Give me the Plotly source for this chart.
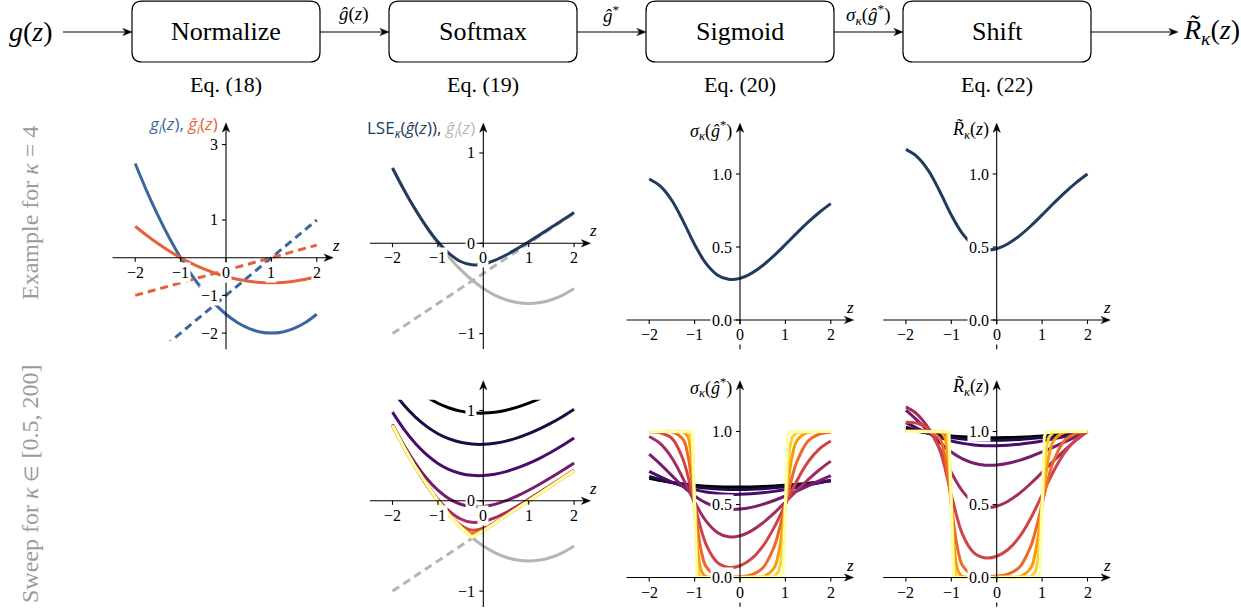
import plotly.graph_objects as go

W, H = 1241, 611
SERIF = "Liberation Serif"
SANS = "Open Sans"

# ---------------- data ----------------
Z_COARSE = [-2.0, -1.75, -1.5, -1.25, -1.0, -0.75, -0.5, -0.25, 0.0, 0.25, 0.5,
            0.75, 1.0, 1.25, 1.5, 1.75, 2.0]
Z_FINE = [-2.0, -1.75, -1.5, -1.25, -1.15, -1.1, -1.05, -1.0, -0.95, -0.9, -0.85,
          -0.75, -0.5, -0.25, 0.0, 0.25, 0.5, 0.75, 0.85, 0.9, 0.95, 1.0, 1.05,
          1.1, 1.15, 1.25, 1.5, 1.75, 2.0]

G1 = [2.5, 1.781, 1.125, 0.531, 0.0, -0.469, -0.875, -1.219, -1.5, -1.719, -1.875,
      -1.969, -2.0, -1.969, -1.875, -1.719, -1.5]
G1_HAT = [0.8333, 0.5938, 0.375, 0.1771, 0.0, -0.1563, -0.2917, -0.4063, -0.5,
          -0.5729, -0.625, -0.6563, -0.6667, -0.6563, -0.625, -0.5729, -0.5]
G2_Z = [-2.0, 2.0]
G2 = [-3.0, 1.0]
G2_HAT = [-1.0, 0.3333]

KAPPAS = [0.5, 0.67, 1, 2, 4, 8, 16, 32, 64, 200]

LSE_K05 = [1.5060, 1.3641, 1.2470, 1.1531, 1.0806, 1.0280, 0.9931, 0.9748, 0.9713,
           0.9814, 1.0035, 1.0371, 1.0806, 1.1339, 1.1961, 1.2670, 1.3459]
LSE_K067 = [1.2208, 1.0610, 0.9291, 0.8238, 0.7431, 0.6851, 0.6476, 0.6281, 0.6254,
            0.6370, 0.6613, 0.6972, 0.7431, 0.7983, 0.8623, 0.9340, 1.0136]
LSE_K1 = [0.9817, 0.7933, 0.6364, 0.5105, 0.4144, 0.3460, 0.3027, 0.2817, 0.2800,
          0.2947, 0.3233, 0.3639, 0.4144, 0.4735, 0.5404, 0.6141, 0.6942]
LSE_K2 = [0.8460, 0.6176, 0.4177, 0.2498, 0.1170, 0.0210, -0.0385, -0.0649, -0.0632,
          -0.0392, 0.0015, 0.0547, 0.1170, 0.1859, 0.2600, 0.3382, 0.4198]
LSE_K4 = [0.8335, 0.5943, 0.3770, 0.1831, 0.0168, -0.1146, -0.2015, -0.2381, -0.2297,
          -0.1893, -0.1296, -0.0593, 0.0168, 0.0960, 0.1770, 0.2591, 0.3421]
LSE_K8 = [0.8333, 0.5938, 0.3750, 0.1772, 0.0006, -0.1522, -0.2700, -0.3247, -0.3041,
          -0.2409, -0.1635, -0.0821, 0.0006, 0.0837, 0.1669, 0.2502, 0.3335]
LSE_K16 = [0.8333, 0.5938, 0.3750, 0.1771, 0.1038, 0.0683, 0.0338, 0.0, -0.0329,
           -0.0650, -0.0962, -0.1562, -0.2895, -0.3679, -0.3291, -0.2496, -0.1666,
           -0.0833, -0.05, -0.0333, -0.0167, 0.0, 0.0167, 0.0333, 0.05, 0.0833,
           0.1667, 0.25, 0.3336]
LSE_K32 = [0.8333, 0.5938, 0.3750, 0.1771, 0.1038, 0.0683, 0.0338, 0.0, -0.0329,
           -0.0650, -0.0962, -0.1562, -0.2917, -0.3894, -0.3333, -0.25, -0.1667,
           -0.0833, -0.05, -0.0333, -0.0167, 0.0, 0.0167, 0.0333, 0.05, 0.0833,
           0.1667, 0.25, 0.3333]
LSE_K64 = [0.8333, 0.5938, 0.3750, 0.1771, 0.1038, 0.0683, 0.0338, 0.0, -0.0329,
           -0.0650, -0.0962, -0.1562, -0.2917, -0.3998, -0.3333, -0.25, -0.1667,
           -0.0833, -0.05, -0.0333, -0.0167, 0.0, 0.0167, 0.0333, 0.05, 0.0833,
           0.1667, 0.25, 0.3333]
LSE_K200 = [0.8333, 0.5938, 0.3750, 0.1771, 0.1038, 0.0683, 0.0338, 0.0, -0.0329,
            -0.0650, -0.0962, -0.1562, -0.2917, -0.4057, -0.3333, -0.25, -0.1667,
            -0.0833, -0.05, -0.0333, -0.0167, 0.0, 0.0167, 0.0333, 0.05, 0.0833,
            0.1667, 0.25, 0.3333]

SIG_K05 = [0.6798, 0.6642, 0.6510, 0.6403, 0.6319, 0.6257, 0.6217, 0.6195, 0.6191,
           0.6203, 0.6229, 0.6268, 0.6319, 0.6381, 0.6452, 0.6533, 0.6622]
SIG_K067 = [0.6930, 0.6698, 0.6501, 0.6340, 0.6214, 0.6122, 0.6063, 0.6032, 0.6027,
            0.6046, 0.6085, 0.6141, 0.6214, 0.6300, 0.6399, 0.6508, 0.6628]
SIG_K1 = [0.7274, 0.6886, 0.6539, 0.6249, 0.6021, 0.5856, 0.5751, 0.5700, 0.5695,
          0.5732, 0.5801, 0.5900, 0.6021, 0.6162, 0.6319, 0.6489, 0.6669]
SIG_K2 = [0.8444, 0.7747, 0.6975, 0.6223, 0.5582, 0.5105, 0.4808, 0.4676, 0.4684,
          0.4804, 0.5008, 0.5273, 0.5582, 0.5919, 0.6271, 0.6629, 0.6984]
SIG_K4 = [0.9656, 0.9151, 0.8187, 0.6753, 0.5168, 0.3874, 0.3087, 0.2784, 0.2852,
          0.3193, 0.3733, 0.4410, 0.5168, 0.5949, 0.6700, 0.7382, 0.7971]
SIG_K8 = [0.9987, 0.9914, 0.9526, 0.8049, 0.5012, 0.2283, 0.1034, 0.0693, 0.0807,
          0.1271, 0.2128, 0.3415, 0.5012, 0.6614, 0.7917, 0.8810, 0.9351]
SIG_K16 = [1.0, 0.9999, 0.9975, 0.9445, 0.8403, 0.7490, 0.6318, 0.5, 0.3713, 0.2612,
           0.1765, 0.0759, 0.0096, 0.0028, 0.0051, 0.0181, 0.0650, 0.2086, 0.3100,
           0.3697, 0.4337, 0.5, 0.5663, 0.6303, 0.6900, 0.7914, 0.9350, 0.9820, 0.9952]
SIG_K32 = [1.0, 1.0, 1.0, 0.9966, 0.9651, 0.8990, 0.7465, 0.5, 0.2586, 0.1111, 0.0439,
           0.0067, 0.0001, 0.0, 0.0, 0.0003, 0.0048, 0.0650, 0.1680, 0.2560, 0.3697,
           0.5, 0.6303, 0.7440, 0.8320, 0.9350, 0.9952, 0.9997, 1.0]
SIG_K64 = [1.0, 1.0, 1.0, 1.0, 0.9987, 0.9876, 0.8966, 0.5, 0.1085, 0.0154, 0.0021,
           0.0001, 0.0, 0.0, 0.0, 0.0, 0.0, 0.0048, 0.0392, 0.1059, 0.2560, 0.5,
           0.7440, 0.8941, 0.9608, 0.9952, 1.0, 1.0, 1.0]
SIG_K200 = [1.0, 1.0, 1.0, 1.0, 1.0, 1.0, 0.9988, 0.5, 0.0014, 0.0, 0.0, 0.0, 0.0,
            0.0, 0.0, 0.0, 0.0, 0.0, 0.0001, 0.0013, 0.0344, 0.5, 0.9656, 0.9987,
            1.0, 1.0, 1.0, 1.0, 1.0]

RT_K05 = [1.0176, 1.0020, 0.9888, 0.9781, 0.9697, 0.9635, 0.9595, 0.9573, 0.9569,
          0.9581, 0.9607, 0.9646, 0.9697, 0.9759, 0.9830, 0.9911, 1.0]
RT_K067 = [1.0302, 1.0070, 0.9873, 0.9712, 0.9586, 0.9494, 0.9435, 0.9404, 0.9399,
           0.9418, 0.9457, 0.9513, 0.9586, 0.9672, 0.9771, 0.9880, 1.0]
RT_K1 = [1.0605, 1.0217, 0.9870, 0.9580, 0.9352, 0.9187, 0.9082, 0.9031, 0.9026,
         0.9063, 0.9132, 0.9231, 0.9352, 0.9493, 0.9650, 0.9820, 1.0]
RT_K2 = [1.1460, 1.0763, 0.9991, 0.9239, 0.8598, 0.8121, 0.7824, 0.7692, 0.7700,
         0.7820, 0.8024, 0.8289, 0.8598, 0.8935, 0.9287, 0.9645, 1.0]
RT_K4 = [1.1685, 1.1180, 1.0216, 0.8782, 0.7197, 0.5903, 0.5116, 0.4813, 0.4881,
         0.5222, 0.5762, 0.6439, 0.7197, 0.7978, 0.8729, 0.9411, 1.0]
RT_K8 = [1.0636, 1.0563, 1.0175, 0.8698, 0.5661, 0.2932, 0.1683, 0.1342, 0.1456,
         0.1920, 0.2777, 0.4064, 0.5661, 0.7263, 0.8566, 0.9459, 1.0]
RT_K16 = [1.0048, 1.0047, 1.0023, 0.9493, 0.8451, 0.7538, 0.6366, 0.5048, 0.3761,
          0.2660, 0.1813, 0.0807, 0.0144, 0.0076, 0.0099, 0.0229, 0.0698, 0.2134,
          0.3148, 0.3745, 0.4385, 0.5048, 0.5711, 0.6351, 0.6948, 0.7962, 0.9398,
          0.9868, 1.0]
RT_K32 = SIG_K32
RT_K64 = SIG_K64
RT_K200 = SIG_K200

SWEEP_Z = [Z_COARSE] * 6 + [Z_FINE] * 4
LSE_SWEEP = [LSE_K05, LSE_K067, LSE_K1, LSE_K2, LSE_K4, LSE_K8, LSE_K16, LSE_K32, LSE_K64, LSE_K200]
SIG_SWEEP = [SIG_K05, SIG_K067, SIG_K1, SIG_K2, SIG_K4, SIG_K8, SIG_K16, SIG_K32, SIG_K64, SIG_K200]
RT_SWEEP = [RT_K05, RT_K067, RT_K1, RT_K2, RT_K4, RT_K8, RT_K16, RT_K32, RT_K64, RT_K200]

X_TICKS = [-2, -1, 0, 1, 2]
A_Y_TICKS = [3, 1, -1, -2]
B_Y_TICKS = [1, 0, -1]
S_Y_TICKS = [1.0, 0.5, 0.0]

STAGES = ["Normalize", "Softmax", "Sigmoid", "Shift"]
EQS = ["Eq. (18)", "Eq. (19)", "Eq. (20)", "Eq. (22)"]
EDGE_LABELS = ["<i>ĝ</i>(<i>z</i>)", "<i>ĝ</i><sup>*</sup>",
               "<i>σ</i><sub><i>κ</i></sub>(<i>ĝ</i><sup>*</sup>)"]

# ---------------- styles ----------------
BLUE = "#3a67a0"
ORANGE = "#e5623d"
NAVY = "#233a5e"
GRAY = "#b5b5b5"
INFERNO = ["#000004", "#1b0c41", "#4a0c6b", "#781c6d", "#a52c60",
           "#cf4446", "#ed6925", "#fb9b06", "#f7d13d", "#fcffa4"]
SWEEP_SHAPE = ["spline"] * 8 + ["linear"] * 2
DASH = "8px,5px"

COL_X0 = [226.0, 483.3, 740.0, 996.7]
SX = 45.4
X_RANGE = (-2.7, 2.7)

LBL_A = ('<span style="color:%s"><i>g<sub>i</sub></i>(<i>z</i>),</span> '
         '<span style="color:%s"><i>ĝ<sub>i</sub></i>(<i>z</i>)</span>') % (BLUE, ORANGE)
LBL_B = ('<span style="color:%s">LSE<sub><i>κ</i></sub>(<i>ĝ</i>(<i>z</i>)),</span> '
         '<span style="color:%s"><i>ĝ<sub>i</sub></i>(<i>z</i>)</span>') % (NAVY, "#b8b8b8")
LBL_C = "<i>σ</i><sub><i>κ</i></sub>(<i>ĝ</i><sup>*</sup>)"
LBL_D = "<i>R̃</i><sub><i>κ</i></sub>(<i>z</i>)"

PANELS = [
    dict(col=0, y0=257.7, sy=37.7, yr=(-2.2, 3.7), yext=(-2.43, 3.57), xtip=2.36,
         yt=A_Y_TICKS, fmt="int", lab=LBL_A, labfont=SANS, labsize=17, laby=125),
    dict(col=1, y0=243.3, sy=90.3, yr=(-1.3, 1.45), yext=(-1.17, 1.33), xtip=2.36,
         yt=B_Y_TICKS, fmt="int", lab=LBL_B, labfont=SANS, labsize=17, laby=129),
    dict(col=2, y0=320.0, sy=146.0, yr=(-0.3, 1.45), yext=(-0.2, 1.347), xtip=2.5,
         yt=S_Y_TICKS, fmt="f1", lab=LBL_C, labfont=SERIF, labsize=18, laby=130),
    dict(col=3, y0=320.0, sy=146.0, yr=(-0.3, 1.45), yext=(-0.2, 1.347), xtip=2.5,
         yt=S_Y_TICKS, fmt="f1", lab=LBL_D, labfont=SERIF, labsize=18, laby=130),
    dict(col=1, y0=500.8, sy=90.3, yr=(-1.2, 1.12), yext=(-1.176, 1.33), xtip=2.36,
         yt=B_Y_TICKS, fmt="int", lab=LBL_B, labfont=SANS, labsize=17, laby=386.5),
    dict(col=2, y0=577.5, sy=146.0, yr=(-0.22, 1.45), yext=(-0.2, 1.347), xtip=2.5,
         yt=S_Y_TICKS, fmt="f1", lab=LBL_C, labfont=SERIF, labsize=18, laby=387.5),
    dict(col=3, y0=577.5, sy=146.0, yr=(-0.22, 1.45), yext=(-0.2, 1.347), xtip=2.5,
         yt=S_Y_TICKS, fmt="f1", lab=LBL_D, labfont=SERIF, labsize=18, laby=387.5),
]


def PX(x):
    return x / W


def PY(y):
    return 1 - y / H


def fmt_tick(t, kind):
    if kind == "f1":
        s = f"{t:.1f}"
    else:
        s = f"{int(round(t))}"
    return s.replace("-", "−")


def seg(xa, ya, xb, yb, width=1.1):
    return dict(type="line", xref="paper", yref="paper", x0=PX(xa), y0=PY(ya),
                x1=PX(xb), y1=PY(yb), line=dict(color="black", width=width), layer="above")


def head_right(tx, ty, L=9.0, hw=3.6, notch=6.5):
    p = (f"M{PX(tx)},{PY(ty)} L{PX(tx - L)},{PY(ty - hw)} L{PX(tx - notch)},{PY(ty)} "
         f"L{PX(tx - L)},{PY(ty + hw)} Z")
    return dict(type="path", xref="paper", yref="paper", path=p, fillcolor="black",
                line=dict(color="black", width=0.5), layer="above")


def head_up(tx, ty, L=9.0, hw=3.6, notch=6.5):
    p = (f"M{PX(tx)},{PY(ty)} L{PX(tx - hw)},{PY(ty + L)} L{PX(tx)},{PY(ty + notch)} "
         f"L{PX(tx + hw)},{PY(ty + L)} Z")
    return dict(type="path", xref="paper", yref="paper", path=p, fillcolor="black",
                line=dict(color="black", width=0.5), layer="above")


fig = go.Figure()
shapes, annotations, axes = [], [], {}


def ax_names(i):
    return ("x" if i == 1 else f"x{i}"), ("y" if i == 1 else f"y{i}")


def add_line(i, xs, ys, color, dash="solid", shape="spline", width=3.0):
    xa, ya = ax_names(i)
    fig.add_trace(go.Scatter(x=xs, y=ys, mode="lines",
                             line=dict(color=color, width=width, dash=dash, shape=shape),
                             xaxis=xa, yaxis=ya, hoverinfo="skip", showlegend=False))


# ---------------- subplots & axes ----------------
for i, p in enumerate(PANELS, start=1):
    x0, y0, sy = COL_X0[p["col"]], p["y0"], p["sy"]
    xa, ya = ax_names(i)
    axes["xaxis" if i == 1 else f"xaxis{i}"] = dict(
        domain=[(x0 + X_RANGE[0] * SX) / W, (x0 + X_RANGE[1] * SX) / W],
        range=list(X_RANGE), visible=False, fixedrange=True, anchor=ya)
    axes["yaxis" if i == 1 else f"yaxis{i}"] = dict(
        domain=[1 - (y0 - p["yr"][0] * sy) / H, 1 - (y0 - p["yr"][1] * sy) / H],
        range=list(p["yr"]), visible=False, fixedrange=True, anchor=xa)

    def fx(z):
        return x0 + z * SX

    def fy(v):
        return y0 - v * sy

    tipx = fx(p["xtip"])
    shapes.append(seg(fx(-2.5), y0, tipx - 6, y0))
    shapes.append(head_right(tipx, y0))
    topy = fy(p["yext"][1])
    shapes.append(seg(x0, fy(p["yext"][0]), x0, topy + 6))
    shapes.append(head_up(x0, topy))

    for t in X_TICKS:
        shapes.append(seg(fx(t), y0, fx(t), y0 + 4))
        annotations.append(dict(x=t, y=0, xref=xa, yref=ya, text=fmt_tick(t, "int"),
                                showarrow=False, xanchor="center", yanchor="top", yshift=-4,
                                bgcolor="white", borderpad=1,
                                font=dict(family=SERIF, size=16, color="black")))
    for t in p["yt"]:
        shapes.append(seg(x0 - 4, fy(t), x0, fy(t)))
        annotations.append(dict(x=0, y=t, xref=xa, yref=ya, text=fmt_tick(t, p["fmt"]),
                                showarrow=False, xanchor="right", yanchor="middle", xshift=-6,
                                bgcolor="white", borderpad=1,
                                font=dict(family=SERIF, size=16, color="black")))
    annotations.append(dict(x=2.42, y=0, xref=xa, yref=ya, text="<i>z</i>", showarrow=False,
                            xanchor="center", yanchor="bottom", yshift=1,
                            font=dict(family=SERIF, size=17, color="black")))
    annotations.append(dict(x=0, y=(y0 - p["laby"]) / sy, xref=xa, yref=ya, text=p["lab"],
                            showarrow=False, xanchor="right", yanchor="middle", xshift=-6,
                            font=dict(family=p["labfont"], size=p["labsize"], color="black")))

# ---------------- curves ----------------
add_line(1, Z_COARSE, G1, BLUE)
add_line(1, G2_Z, G2, BLUE, dash=DASH, shape="linear")
add_line(1, Z_COARSE, G1_HAT, ORANGE)
add_line(1, G2_Z, G2_HAT, ORANGE, dash=DASH, shape="linear")

add_line(2, Z_COARSE, G1_HAT, GRAY)
add_line(2, G2_Z, G2_HAT, GRAY, dash=DASH, shape="linear")
add_line(2, Z_COARSE, LSE_K4, NAVY)
add_line(3, Z_COARSE, SIG_K4, NAVY)
add_line(4, Z_COARSE, RT_K4, NAVY)

add_line(5, Z_COARSE, G1_HAT, GRAY)
add_line(5, G2_Z, G2_HAT, GRAY, dash=DASH, shape="linear")
for k in range(len(KAPPAS)):
    add_line(5, SWEEP_Z[k], LSE_SWEEP[k], INFERNO[k], shape="linear" if k >= 6 else "spline")
for k in range(len(KAPPAS)):
    add_line(6, SWEEP_Z[k], SIG_SWEEP[k], INFERNO[k], shape=SWEEP_SHAPE[k])
for k in range(len(KAPPAS)):
    add_line(7, SWEEP_Z[k], RT_SWEEP[k], INFERNO[k], shape=SWEEP_SHAPE[k])

# ---------------- top flow diagram ----------------
BOX_CX = [226.0, 483.0, 740.0, 997.0]
BOX_HW, BOX_T, BOX_B, R = 94.0, 1.2, 62.0, 10.0
ROW_Y = 32.0


def rbox(l, t, r, b):
    pts = [("M", l + R, t), ("L", r - R, t), ("Q", r, t, r, t + R), ("L", r, b - R),
           ("Q", r, b, r - R, b), ("L", l + R, b), ("Q", l, b, l, b - R), ("L", l, t + R),
           ("Q", l, t, l + R, t)]
    s = ""
    for pt in pts:
        if pt[0] == "Q":
            s += f"Q{PX(pt[1])},{PY(pt[2])} {PX(pt[3])},{PY(pt[4])} "
        else:
            s += f"{pt[0]}{PX(pt[1])},{PY(pt[2])} "
    return dict(type="path", xref="paper", yref="paper", path=s + "Z",
                line=dict(color="black", width=1.2), fillcolor="rgba(0,0,0,0)", layer="above")


for k, cx in enumerate(BOX_CX):
    shapes.append(rbox(cx - BOX_HW, BOX_T, cx + BOX_HW, BOX_B))
    annotations.append(dict(x=PX(cx), y=PY(ROW_Y), xref="paper", yref="paper", text=STAGES[k],
                            showarrow=False, xanchor="center", yanchor="middle",
                            font=dict(family=SERIF, size=26, color="black")))
    annotations.append(dict(x=PX(cx), y=PY(85), xref="paper", yref="paper", text=EQS[k],
                            showarrow=False, xanchor="center", yanchor="middle",
                            font=dict(family=SERIF, size=22, color="black")))

arrow_spans = [(63.0, BOX_CX[0] - BOX_HW)]
for k in range(3):
    arrow_spans.append((BOX_CX[k] + BOX_HW, BOX_CX[k + 1] - BOX_HW))
arrow_spans.append((BOX_CX[3] + BOX_HW, 1178.0))
for a, b in arrow_spans:
    shapes.append(seg(a, ROW_Y, b - 6, ROW_Y, width=1.2))
    shapes.append(head_right(b, ROW_Y))

for k in range(3):
    mid = (BOX_CX[k] + BOX_HW + BOX_CX[k + 1] - BOX_HW) / 2
    annotations.append(dict(x=PX(mid), y=PY(14), xref="paper", yref="paper",
                            text=EDGE_LABELS[k], showarrow=False, xanchor="center",
                            yanchor="middle", font=dict(family=SERIF, size=19, color="black")))

annotations.append(dict(x=PX(31), y=PY(ROW_Y), xref="paper", yref="paper",
                        text="<i>g</i>(<i>z</i>)", showarrow=False, xanchor="center",
                        yanchor="middle", font=dict(family=SERIF, size=28, color="black")))
annotations.append(dict(x=PX(1181), y=PY(ROW_Y), xref="paper", yref="paper",
                        text="<i>R̃</i><sub><i>κ</i></sub>(<i>z</i>)", showarrow=False,
                        xanchor="left", yanchor="middle",
                        font=dict(family=SERIF, size=28, color="black")))

# row labels
annotations.append(dict(x=PX(30), y=PY(213), xref="paper", yref="paper",
                        text="Example for <i>κ</i> = 4", showarrow=False, textangle=-90,
                        xanchor="center", yanchor="middle",
                        font=dict(family=SERIF, size=24, color="#9a9a9a")))
annotations.append(dict(x=PX(30), y=PY(484), xref="paper", yref="paper",
                        text='Sweep for <i>κ</i> <span style="font-size:19px">∈</span> [0.5, 200]',
                        showarrow=False, textangle=-90,
                        xanchor="center", yanchor="middle",
                        font=dict(family=SERIF, size=24, color="#9a9a9a")))

fig.update_layout(width=W, height=H, autosize=False,
                  margin=dict(l=0, r=0, t=0, b=0, pad=0),
                  paper_bgcolor="white", plot_bgcolor="white",
                  font=dict(family=SERIF, color="black"),
                  shapes=shapes, annotations=annotations, showlegend=False,
                  hovermode=False, **axes)

fig.write_html("out.html", config={"displayModeBar": False, "staticPlot": True},
               post_script="document.body.style.margin='0px';document.body.style.overflow='hidden';")
